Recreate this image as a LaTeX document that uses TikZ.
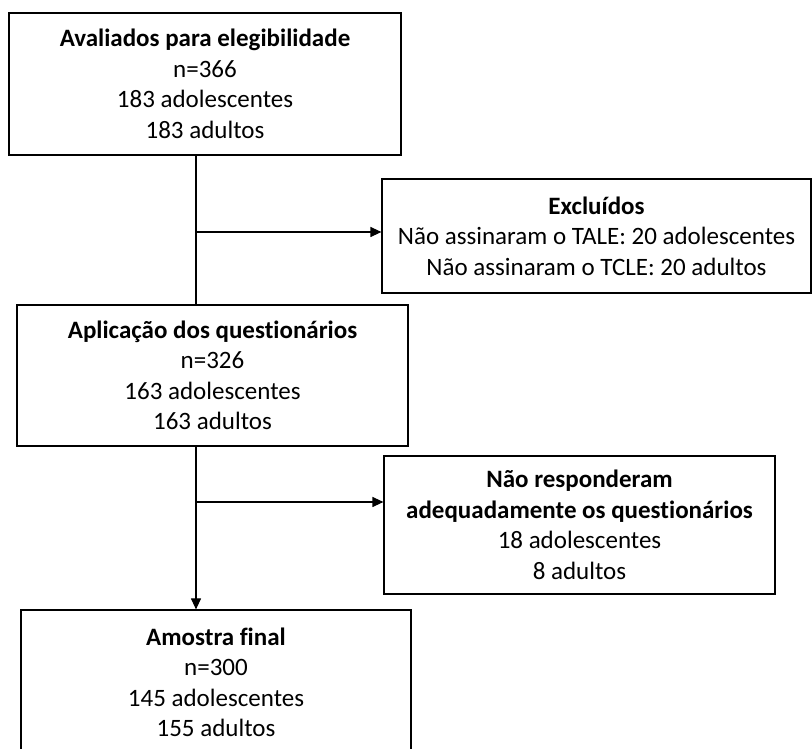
\documentclass[tikz,border=0pt]{standalone}
\usepackage{fontspec}
\setmainfont{Carlito}[Ligatures=NoCommon]
\usetikzlibrary{arrows.meta}
\begin{document}
\begin{tikzpicture}[->,>={Triangle[length=11pt,width=10pt]},line width=1.2pt,x=1pt,y=1pt]
			\tikzstyle{caixa}=[draw,align=center,inner sep=0pt,font=\fontsize{25pt}{30.5pt}\selectfont]
			\path[use as bounding box,clip] (0,0) rectangle (812,749);
			
			\node[caixa,minimum width=392pt,minimum height=142pt] (avaliados) at (205,665) {\textbf{Avaliados para elegibilidade}\\n=366\\183 adolescentes\\183 adultos};
			\node[caixa,minimum width=429pt,minimum height=114pt] (excluidos) at (596.5,513) {\textbf{Excluídos}\\Não assinaram o TALE: 20 adolescentes\\Não assinaram o TCLE: 20 adultos};
			\node[caixa,minimum width=391pt,minimum height=141pt] (aplicacao) at (212.5,373.5) {\textbf{Aplicação dos questionários}\\n=326\\163 adolescentes\\163 adultos};
			\node[caixa,minimum width=391pt,minimum height=138pt] (naoresp) at (579.5,224) {\textbf{Não responderam}\\\textbf{adequadamente os questionários}\\18 adolescentes\\8 adultos};
			\node[caixa,minimum width=390pt,minimum height=145pt] (amostra) at (216,66.5) {\textbf{Amostra final}\\n=300\\145 adolescentes\\155 adultos};
			
			\coordinate (col) at (196,0);
			\coordinate (ramo1) at (196,517);
			\coordinate (ramo2) at (196,247);
			
			\draw[-] (avaliados.south -| col) -- (aplicacao.north -| col);
			\draw (aplicacao.south -| col) -- (amostra.north -| col);
			\draw (ramo1) -- (ramo1 -| excluidos.west);
			\draw (ramo2) -- (ramo2 -| naoresp.west);
			
\end{tikzpicture}
\end{document}
